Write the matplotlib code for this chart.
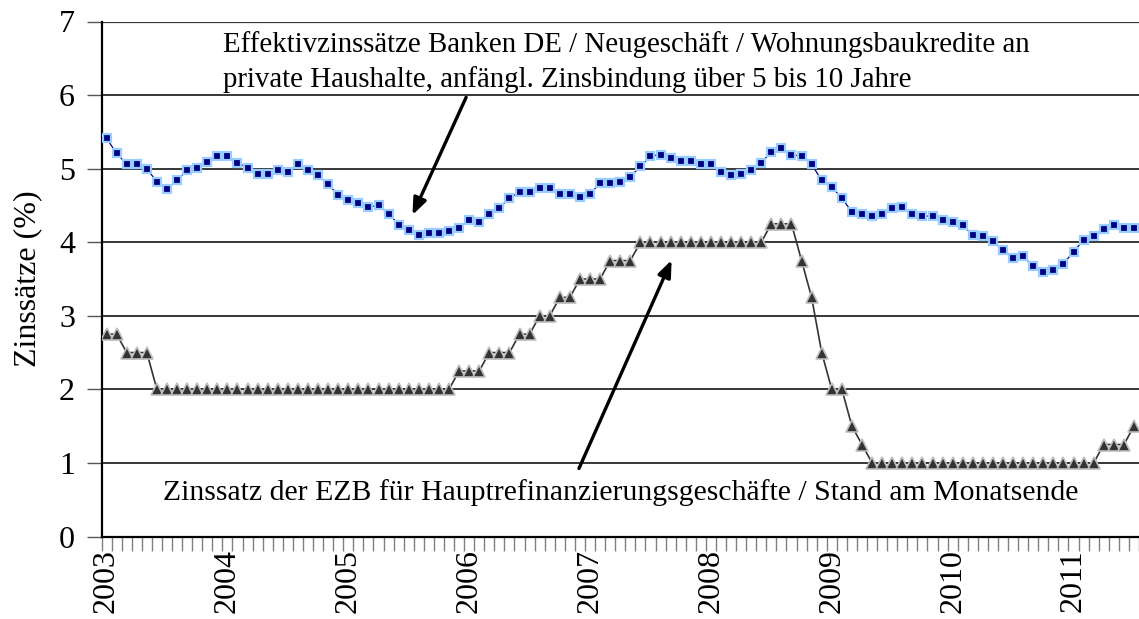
import matplotlib
matplotlib.use("Agg")
import matplotlib.pyplot as plt
import numpy as np

# Monthly data Jan 2003 - Jul 2011
years = [2003, 2004, 2005, 2006, 2007, 2008, 2009, 2010, 2011]

mortgage_rate = [
    5.41, 5.21, 5.06, 5.06, 5.00, 4.82, 4.73, 4.84, 4.98, 5.01, 5.09, 5.17,   # 2003
    5.17, 5.08, 5.01, 4.93, 4.93, 4.98, 4.95, 5.06, 4.98, 4.91, 4.79, 4.64,   # 2004
    4.57, 4.53, 4.48, 4.50, 4.39, 4.24, 4.17, 4.10, 4.12, 4.12, 4.15, 4.19,   # 2005
    4.30, 4.28, 4.39, 4.47, 4.60, 4.68, 4.68, 4.74, 4.74, 4.66, 4.66, 4.62,   # 2006
    4.66, 4.80, 4.80, 4.82, 4.89, 5.03, 5.17, 5.19, 5.15, 5.11, 5.11, 5.06,   # 2007
    5.06, 4.95, 4.91, 4.93, 4.98, 5.08, 5.23, 5.28, 5.19, 5.17, 5.06, 4.84,   # 2008
    4.75, 4.60, 4.41, 4.39, 4.36, 4.39, 4.46, 4.48, 4.39, 4.35, 4.36, 4.30,   # 2009
    4.28, 4.23, 4.10, 4.08, 4.01, 3.90, 3.79, 3.81, 3.67, 3.60, 3.62, 3.71,   # 2010
    3.87, 4.03, 4.09, 4.18, 4.23, 4.20, 4.20,                                 # 2011
]

ecb_rate = [
    2.75, 2.75, 2.50, 2.50, 2.50, 2.00, 2.00, 2.00, 2.00, 2.00, 2.00, 2.00,   # 2003
    2.00, 2.00, 2.00, 2.00, 2.00, 2.00, 2.00, 2.00, 2.00, 2.00, 2.00, 2.00,   # 2004
    2.00, 2.00, 2.00, 2.00, 2.00, 2.00, 2.00, 2.00, 2.00, 2.00, 2.00, 2.25,   # 2005
    2.25, 2.25, 2.50, 2.50, 2.50, 2.75, 2.75, 3.00, 3.00, 3.25, 3.25, 3.50,   # 2006
    3.50, 3.50, 3.75, 3.75, 3.75, 4.00, 4.00, 4.00, 4.00, 4.00, 4.00, 4.00,   # 2007
    4.00, 4.00, 4.00, 4.00, 4.00, 4.00, 4.25, 4.25, 4.25, 3.75, 3.25, 2.50,   # 2008
    2.00, 2.00, 1.50, 1.25, 1.00, 1.00, 1.00, 1.00, 1.00, 1.00, 1.00, 1.00,   # 2009
    1.00, 1.00, 1.00, 1.00, 1.00, 1.00, 1.00, 1.00, 1.00, 1.00, 1.00, 1.00,   # 2010
    1.00, 1.00, 1.00, 1.25, 1.25, 1.25, 1.50,                                 # 2011
]

label_mortgage = ["Effektivzinssätze Banken DE / Neugeschäft / Wohnungsbaukredite an",
                  "private Haushalte, anfängl. Zinsbindung über 5 bis 10 Jahre"]
label_ecb = "Zinssatz der EZB für Hauptrefinanzierungsgeschäfte / Stand am Monatsende"

plt.rcParams['font.family'] = ['Liberation Serif', 'DejaVu Serif']

W, H = 1139, 619
fig = plt.figure(figsize=(W / 100, H / 100), dpi=100)
ax_left, ax_right, ax_top, ax_bottom = 101.5, 1139, 21.5, 536.5
ax = fig.add_axes([ax_left / W, 1 - ax_bottom / H, (ax_right - ax_left) / W, (ax_bottom - ax_top) / H])

x = np.arange(len(mortgage_rate))

ax.plot(x, mortgage_rate, color='#000080', lw=0.9, marker='s', ms=6.0,
        mfc='#000080', mec='#99CCFF', mew=1.6, zorder=4)
ax.plot(x, ecb_rate, color='#333333', lw=1.2, marker='^', ms=8.4,
        mfc='#333333', mec='#BEBEBE', mew=1.2, zorder=3)

ax.set_xlim(-0.5, 102.15)
ax.set_ylim(0, 7)

# grid
ax.set_yticks(range(0, 8))
for yv in range(1, 8):
    ax.axhline(yv, color='black' if yv < 7 else '#333333', lw=1.1 if yv < 7 else 1.6, zorder=1)

for s in ['top', 'right']:
    ax.spines[s].set_visible(False)
ax.spines['left'].set_linewidth(1.6)
ax.spines['bottom'].set_linewidth(1.6)

ax.tick_params(axis='y', which='major', length=11, width=1.0, color='#555555',
               labelsize=23, pad=8, direction='out')

year_pos = [12 * (y - years[0]) for y in years]
ax.set_xticks(year_pos)
ax.set_xticklabels([str(y) for y in years], rotation=90, fontsize=23, va='top', ha='center')
ax.tick_params(axis='x', which='major', length=0, pad=9)
ax.set_xticks(np.arange(-0.5, 103, 1), minor=True)
ax.tick_params(axis='x', which='minor', length=10, width=1.0, color='#808080', direction='out')

ax.set_ylabel('Zinssätze (%)', fontsize=23, labelpad=12)

# annotations
ax.text(11.57, 6.59, label_mortgage[0], fontsize=20.8, ha='left', va='baseline')
ax.text(11.57, 6.11, label_mortgage[1], fontsize=20.8, ha='left', va='baseline')
ax.text(5.64, 0.496, label_ecb, fontsize=21.4, ha='left', va='baseline')

arrow_kw = dict(arrowstyle='-|>,head_length=1.0,head_width=0.4', lw=2.4, color='black',
                shrinkA=0, shrinkB=0)
ax.annotate('', xy=(30.37, 4.37), xytext=(35.7, 5.97), arrowprops=arrow_kw, zorder=5)
ax.annotate('', xy=(56.1, 3.757), xytext=(46.9, 0.924), arrowprops=arrow_kw, zorder=5)

for t in ax.texts:
    t.set_clip_on(False)

fig.savefig('out.png', dpi=100)
